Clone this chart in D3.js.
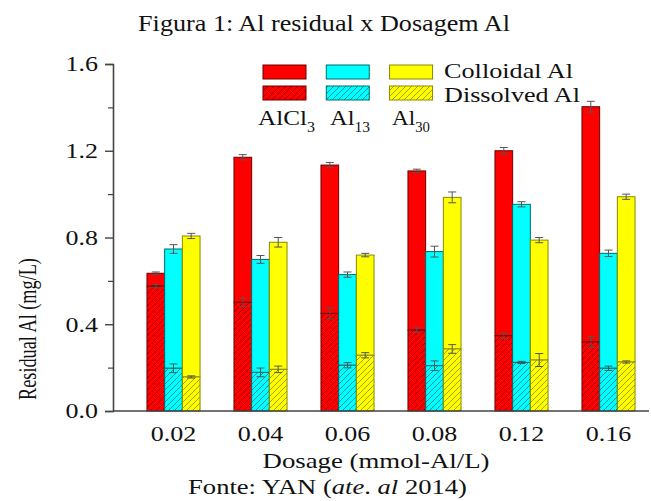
<!DOCTYPE html>
<html>
<head>
<meta charset="utf-8">
<script src="https://cdn.jsdelivr.net/npm/d3@7"></script>
<style>
  html, body { margin: 0; padding: 0; background: #fff; }
  svg { display: block; }
  svg text { font-family: "Liberation Serif", serif; }
</style>
</head>
<body>
<svg id="chart" width="651" height="501"></svg>
<script>
// ---- data ----
const doses = ["0.02", "0.04", "0.06", "0.08", "0.12", "0.16"];
const series = ["AlCl3", "Al13", "Al30"];
// total residual Al (top of bar = colloidal + dissolved), mg/L
const totalAlCl3 = [0.635, 1.170, 1.134, 1.107, 1.200, 1.403];
const totalAl13  = [0.747, 0.699, 0.629, 0.735, 0.953, 0.727];
const totalAl30  = [0.807, 0.778, 0.719, 0.985, 0.788, 0.988];
// dissolved Al, mg/L
const dissAlCl3 = [0.576, 0.501, 0.450, 0.373, 0.347, 0.318];
const dissAl13  = [0.197, 0.178, 0.211, 0.209, 0.224, 0.197];
const dissAl30  = [0.157, 0.192, 0.257, 0.286, 0.235, 0.226];
// error bars (half-widths)
const errTotalAlCl3 = [0.006, 0.012, 0.012, 0.008, 0.015, 0.025];
const errTotalAl13  = [0.020, 0.018, 0.012, 0.025, 0.012, 0.015];
const errTotalAl30  = [0.012, 0.022, 0.008, 0.025, 0.012, 0.012];
const errDissAlCl3  = [0.008, 0.020, 0.025, 0.010, 0.012, 0.025];
const errDissAl13   = [0.020, 0.020, 0.012, 0.022, 0.005, 0.010];
const errDissAl30   = [0.005, 0.015, 0.012, 0.020, 0.030, 0.005];
const yTicks = [0.0, 0.4, 0.8, 1.2, 1.6];
const yMinorTicks = [0.2, 0.6, 1.0, 1.4];
const legendLabels = ["Colloidal Al", "Dissolved Al"];

const table = series.map((s, i) => ({
  key: s,
  total: [totalAlCl3, totalAl13, totalAl30][i],
  diss: [dissAlCl3, dissAl13, dissAl30][i],
  errT: [errTotalAlCl3, errTotalAl13, errTotalAl30][i],
  errD: [errDissAlCl3, errDissAl13, errDissAl30][i]
}));

const FONT = "'Liberation Serif', serif";
const fillC = { AlCl3: "#ff0000", Al13: "#00ffff", Al30: "#ffff00" };
const edgeC = { AlCl3: "#6e0000", Al13: "#006a6a", Al30: "#8a8a00" };
const hatchC = { AlCl3: "#a00000", Al13: "#0092a8", Al30: "#a8a000" };

const svg = d3.select("#chart");
const SX = 1.3; // horizontal stretch of the original figure

// patterns
const defs = svg.append("defs");
series.forEach(s => {
  const p = defs.append("pattern").attr("id", "hatch-" + s)
    .attr("patternUnits", "userSpaceOnUse").attr("width", 6).attr("height", 6);
  p.append("rect").attr("width", 6).attr("height", 6).attr("fill", fillC[s]);
  p.append("path").attr("d", "M0,6 L6,0 M-1,1 L1,-1 M5,7 L7,5")
    .attr("stroke", hatchC[s]).attr("stroke-width", 1);
});

// scales
const y = d3.scaleLinear().domain([0, 1.6]).range([411, 64]);
const x0 = d3.scaleBand().domain(doses).range([130, 652]).paddingInner(0.39).paddingOuter(0.195);
const x1 = d3.scaleBand().domain(series).range([0, x0.bandwidth()]);

// bars
const groups = svg.append("g").selectAll("g").data(doses).join("g")
  .attr("transform", d => `translate(${x0(d)},0)`);

groups.each(function(dose, di) {
  const g = d3.select(this);
  table.forEach(row => {
    const bx = x1(row.key), bw = x1.bandwidth();
    const t = row.total[di], dv = row.diss[di];
    g.append("rect").attr("x", bx).attr("y", y(t)).attr("width", bw)
      .attr("height", y(dv) - y(t)).attr("fill", fillC[row.key])
      .attr("stroke", edgeC[row.key]).attr("stroke-width", 1);
    g.append("rect").attr("x", bx).attr("y", y(dv)).attr("width", bw)
      .attr("height", y(0) - y(dv)).attr("fill", `url(#hatch-${row.key})`)
      .attr("stroke", edgeC[row.key]).attr("stroke-width", 1);
    [[t, row.errT[di]], [dv, row.errD[di]]].forEach(([v, e]) => {
      const cx = bx + bw / 2;
      const eg = g.append("g").attr("stroke", "#555").attr("stroke-width", 1);
      eg.append("line").attr("x1", cx).attr("x2", cx).attr("y1", y(v - e)).attr("y2", y(v + e));
      eg.append("line").attr("x1", cx - 4).attr("x2", cx + 4).attr("y1", y(v + e)).attr("y2", y(v + e));
      eg.append("line").attr("x1", cx - 4).attr("x2", cx + 4).attr("y1", y(v - e)).attr("y2", y(v - e));
    });
  });
});

// axes
const axisColor = "#444";
const yAxis = svg.append("g").attr("transform", "translate(113,0)")
  .call(d3.axisLeft(y).tickValues(yTicks).tickSize(8).tickPadding(7).tickFormat(d3.format(".1f")));
yAxis.attr("font-family", null);
yAxis.select(".domain").attr("stroke", axisColor).attr("stroke-width", 1.6);
yAxis.selectAll(".tick line").attr("stroke", axisColor).attr("stroke-width", 1.4);
yAxis.selectAll(".tick text").attr("font-size", 20).style("font-family", FONT)
  .attr("fill", "#111").attr("x", 0).attr("dy", "0.34em")
  .attr("transform", `translate(-15,0) scale(${SX},1)`);

const yMinor = svg.append("g").attr("transform", "translate(113,0)")
  .call(d3.axisLeft(y).tickValues(yMinorTicks).tickSize(5).tickFormat(""));
yMinor.select(".domain").remove();
yMinor.selectAll(".tick line").attr("stroke", axisColor).attr("stroke-width", 1.2);

const xAxis = svg.append("g").attr("transform", `translate(0,${y(0)})`)
  .call(d3.axisBottom(x0).tickSize(0).tickPadding(16).tickSizeOuter(0));
xAxis.attr("font-family", null);
xAxis.select(".domain").attr("d", `M113,0H649`).attr("stroke", axisColor).attr("stroke-width", 1.6);
xAxis.selectAll(".tick text").attr("font-size", 20).style("font-family", FONT)
  .attr("fill", "#111").attr("transform", `scale(${SX},1)`);

// helpers
function stretchedText(cx, cy, size, parts, opts = {}) {
  const t = svg.append("text").attr("text-anchor", opts.anchor || "middle")
    .attr("font-size", size).attr("fill", "#111").style("font-family", FONT)
    .attr("transform", `translate(${cx},${cy}) scale(1,1)`);
  parts.forEach(p => {
    const ts = t.append("tspan").text(p.text);
    if (p.italic) ts.attr("font-style", "italic");
    if (p.size) ts.attr("font-size", p.size);
    if (p.dy) ts.attr("dy", p.dy);
  });
  return t;
}
function fitWidth(sel, width) {
  const w = sel.node().getComputedTextLength();
  const tr = sel.attr("transform").replace(/scale\([^)]*\)/, `scale(${width / w},1)`);
  sel.attr("transform", tr);
}

// axis titles
const xt = stretchedText(376, 468, 21, [{ text: "Dosage (mmol-Al/L)" }]);
fitWidth(xt, 227);
const yt = svg.append("text").attr("text-anchor", "middle").attr("font-size", 19)
  .attr("fill", "#111").style("font-family", FONT).text("Residual Al (mg/L)");
const ytw = yt.node().getComputedTextLength();
yt.attr("transform", `translate(36,329) rotate(-90) scale(${142 / ytw},1.3)`);

// title & source
const tt = stretchedText(324, 31, 24, [{ text: "Figura 1: Al residual x Dosagem Al" }]);
fitWidth(tt, 372);
const ft = stretchedText(327.5, 494, 22, [
  { text: "Fonte: YAN (" }, { text: "ate", italic: true }, { text: ". " },
  { text: "al", italic: true }, { text: " 2014)" }]);
fitWidth(ft, 279);

// legend
const legX = d3.scaleBand().domain(series).range([263, 437]).paddingInner(0.25);
const legend = svg.append("g");
series.forEach(s => {
  legend.append("rect").attr("x", legX(s)).attr("y", 65).attr("width", 43).attr("height", 14)
    .attr("fill", fillC[s]).attr("stroke", edgeC[s]).attr("stroke-width", 1);
  legend.append("rect").attr("x", legX(s)).attr("y", 86).attr("width", 43).attr("height", 14)
    .attr("fill", `url(#hatch-${s})`).attr("stroke", edgeC[s]).attr("stroke-width", 1);
});
const l1 = stretchedText(444, 78, 20, [{ text: legendLabels[0] }], { anchor: "start" });
fitWidth(l1, 129);
const l2 = stretchedText(444, 101.5, 20, [{ text: legendLabels[1] }], { anchor: "start" });
fitWidth(l2, 136);
const subLabels = [["AlCl", "3"], ["Al", "13"], ["Al", "30"]];
const subX = [258, 330, 392];
const subW = [57, 40, 38];
subLabels.forEach((sl, i) => {
  const t = stretchedText(subX[i], 125, 22, [{ text: sl[0] }, { text: sl[1], size: 14, dy: 7 }], { anchor: "start" });
  fitWidth(t, subW[i]);
});
</script>
</body>
</html>
